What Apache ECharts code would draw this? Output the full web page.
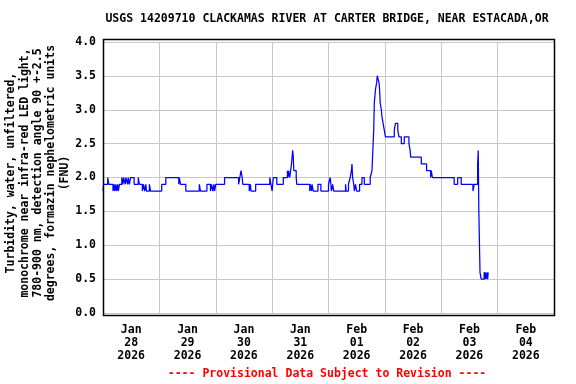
<!DOCTYPE html>
<html>
<head>
<meta charset="utf-8">
<script src="https://cdn.jsdelivr.net/npm/echarts@6/dist/echarts.min.js"></script>
<style>
html,body{margin:0;padding:0;background:#fff;}
#chart{width:576px;height:384px;}
</style>
</head>
<body>
<div id="chart"></div>
<script>
// Hours since Jan 28 2026 00:00 at which the reading changes
const hours = [
0.0,0.25,2.0,2.5,4.25,4.75,5.0,5.5,5.75,6.25,6.5,7.0,8.0,8.5,8.75,9.5,9.75,10.5,10.75,11.25,11.75,13.25,15.0,15.5,16.75,17.25,17.75,18.25,18.5,19.75,20.25,
25.0,26.75,32.25,32.5,33.0,35.25,41.0,41.5,44.25,45.75,46.25,46.75,47.25,47.5,48.0,
51.75,57.75,58.25,58.75,59.25,59.5,62.25,62.75,63.0,65.0,71.0,71.5,72.0,72.25,72.5,74.0,
76.75,78.5,78.75,79.0,79.5,80.25,80.75,81.0,81.25,82.25,82.5,88.0,88.25,88.75,89.0,89.5,91.5,92.75,
96.0,96.75,97.0,97.25,97.75,98.25,103.25,103.5,104.5,105.25,105.75,106.0,106.25,106.75,107.0,107.5,108.0,109.25,110.25,111.25,
113.75,114.5,114.75,115.25,115.5,116.0,116.5,116.75,117.5,117.75,118.0,118.5,118.75,119.25,119.75,
120.25,124.0,124.5,125.5,126.0,127.0,128.25,130.25,130.75,131.0,135.5,137.75,139.5,139.75,140.25,
149.5,151.0,152.5,157.5,158.0,159.5,159.75,160.0,160.5,161.0,162.25,162.5,162.75,163.0,163.5,163.75,164.0,164.25
];
// Turbidity (FNU) from that time on
const fnu = [
1.8,1.9,2.0,1.9,1.8,1.9,1.8,1.9,1.8,1.9,1.8,1.9,2.0,1.9,2.0,1.9,2.0,1.9,2.0,1.9,2.0,1.9,2.0,1.9,1.8,1.9,1.8,1.9,1.8,1.9,1.8,
1.9,2.0,1.9,2.0,1.9,1.8,1.9,1.8,1.9,1.8,1.9,1.8,1.9,1.8,1.9,
2.0,1.9,2.0,2.1,2.0,1.9,1.8,1.9,1.8,1.9,2.0,1.9,1.8,1.9,2.0,1.9,
2.0,2.1,2.0,2.1,2.0,2.2,2.4,2.3,2.1,2.0,1.9,1.8,1.9,1.8,1.9,1.8,1.9,1.8,
1.9,2.0,1.9,1.8,1.9,1.8,1.9,1.8,1.9,2.0,2.1,2.2,2.0,1.9,1.8,1.9,1.8,1.9,2.0,1.9,
2.0,2.1,2.3,2.7,3.1,3.3,3.4,3.5,3.4,3.3,3.1,3.0,2.9,2.8,2.7,
2.6,2.7,2.8,2.7,2.6,2.5,2.6,2.5,2.4,2.3,2.2,2.1,2.0,2.1,2.0,
1.9,2.0,1.9,1.8,1.9,2.2,2.4,1.5,0.6,0.5,0.6,0.5,0.6,0.5,0.6,0.5,0.6,0.6
];
const dayLabelHours = [12,36,60,84,108,132,156,180];
const dayLabels = ["Jan\n28\n2026","Jan\n29\n2026","Jan\n30\n2026","Jan\n31\n2026","Feb\n01\n2026","Feb\n02\n2026","Feb\n03\n2026","Feb\n04\n2026"];
const yTicks = [0,0.5,1,1.5,2,2.5,3,3.5,4];
const titleText = "USGS 14209710 CLACKAMAS RIVER AT CARTER BRIDGE, NEAR ESTACADA,OR";
const yName = "Turbidity, water, unfiltered,\nmonochrome near infra-red LED light,\n780-900 nm, detection angle 90 +-2.5\ndegrees, formazin nephelometric units\n(FNU)";
const footer = "---- Provisional Data Subject to Revision ----";

const FONT = '"DejaVu Sans Mono", "Liberation Mono", monospace';
const data = hours.map((h, i) => [h, fnu[i]]);

const chart = echarts.init(document.getElementById('chart'), null, {renderer: 'canvas'});
chart.setOption({
  animation: false,
  backgroundColor: '#ffffff',
  grid: {left: 103, right: 22, top: 42, bottom: 71, containLabel: false},
  xAxis: {
    type: 'value', min: 0, max: 192, interval: 24,
    axisLine: {show: false}, axisTick: {show: false},
    splitLine: {show: true, lineStyle: {color: '#c8c8c8', width: 1}},
    axisLabel: {
      customValues: dayLabelHours,
      formatter: v => dayLabels[dayLabelHours.indexOf(v)] || '',
      fontFamily: FONT, fontWeight: 'bold', fontSize: 11.5, color: '#000',
      lineHeight: 13, margin: 11
    }
  },
  yAxis: {
    type: 'value', min: yTicks[0], max: yTicks[yTicks.length-1], interval: 0.5,
    axisLine: {show: false}, axisTick: {show: false},
    splitLine: {show: true, lineStyle: {color: '#c8c8c8', width: 1}},
    axisLabel: {
      formatter: v => v.toFixed(1),
      fontFamily: FONT, fontWeight: 'bold', fontSize: 11.5, color: '#000', margin: 7
    }
  },
  series: [{
    type: 'line', step: 'end', data: data, showSymbol: false,
    lineStyle: {color: '#0000ff', width: 1.25}, z: 3
  }],
  graphic: [
    {type: 'rect', shape: {x: 103.5, y: 39.5, width: 451, height: 276},
     style: {fill: null, stroke: '#000', lineWidth: 1.5}, z: 10, silent: true},
    {type: 'text', x: 327, y: 19,
     style: {text: titleText, fontFamily: FONT, fontWeight: 'bold', fontSize: 11.5, fill: '#000',
             textAlign: 'center', textVerticalAlign: 'middle'}},
    {type: 'text', x: 38, y: 173, rotation: Math.PI/2,
     style: {text: yName, fontFamily: FONT, fontWeight: 'bold', fontSize: 11.5, fill: '#000',
             lineHeight: 13.3, textAlign: 'center', textVerticalAlign: 'middle'}},
    {type: 'text', x: 327, y: 374,
     style: {text: footer, fontFamily: FONT, fontWeight: 'bold', fontSize: 11.5, fill: '#ff0000',
             textAlign: 'center', textVerticalAlign: 'middle'}}
  ]
});
</script>
</body>
</html>
